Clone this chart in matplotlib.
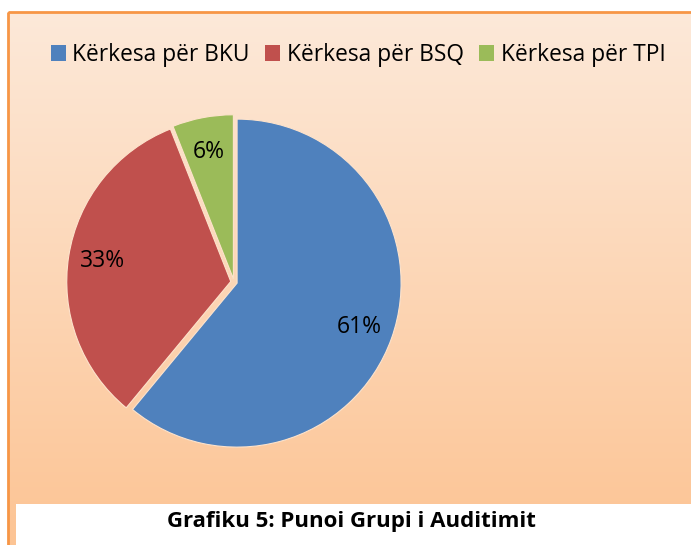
import numpy as np
import matplotlib.pyplot as plt
from matplotlib.patches import Rectangle

labels = ["Kërkesa për BKU", "Kërkesa për BSQ", "Kërkesa për TPI"]
shares = [61, 33, 6]
colors = ["#4F81BD", "#C0504D", "#9BBB59"]
caption = "Grafiku 5: Punoi Grupi i Auditimit"

plt.rcParams['font.family'] = ['Open Sans', 'DejaVu Sans']

W, H = 691, 545
fig = plt.figure(figsize=(W / 100, H / 100), dpi=100)
fig.patch.set_facecolor("white")

# background with vertical gradient and orange frame
bg = fig.add_axes([0, 0, 1, 1])
bg.set_xlim(0, W)
bg.set_ylim(H, 0)
bg.axis("off")
top = np.array([253, 233, 217]) / 255
bottom = np.array([252, 196, 148]) / 255
t = np.linspace(0, 1, 256)[:, None]
grad = top + (bottom - top) * t
grad = grad[:, None, :].repeat(2, axis=1)
bg.imshow(grad, extent=[8, W + 2, H, 12], aspect="auto", zorder=0)
bg.add_patch(Rectangle((8, 12), W, H, fill=False, edgecolor="#F79646",
                       linewidth=2, zorder=1))
bg.add_patch(Rectangle((16, 504), W, 45, facecolor="white", edgecolor="none", zorder=2))
bg.text(351, 522, caption, ha="center", va="center", fontsize=16,
        fontweight="bold", color="black", zorder=3)

# pie
cx, cy, r = 234, 282, 164
half = 1.1 * r
ax = fig.add_axes([(cx - half) / W, (H - cy - half) / H, 2 * half / W, 2 * half / H])
wedges, texts, autotexts = ax.pie(
    shares, colors=colors, startangle=90, counterclock=False,
    explode=[0.02, 0.02, 0.02], autopct="%d%%", pctdistance=0.79,
    wedgeprops=dict(edgecolor="#FDE3CC", linewidth=0.8),
    textprops=dict(fontsize=16.5, color="black"))
ax.set_xlim(-1.1, 1.1)
ax.set_ylim(-1.1, 1.1)
ax.set_aspect("equal")
ax.axis("off")

handles = [Rectangle((0, 0), 1, 1, facecolor=c) for c in colors]
fig.legend(handles, labels, loc="center", bbox_to_anchor=(358 / W, 1 - 55 / H),
           ncol=3, frameon=False, fontsize=16.4, handlelength=0.66,
           handleheight=0.66, handletextpad=0.3, columnspacing=0.66)

fig.savefig("out.png", dpi=100)
